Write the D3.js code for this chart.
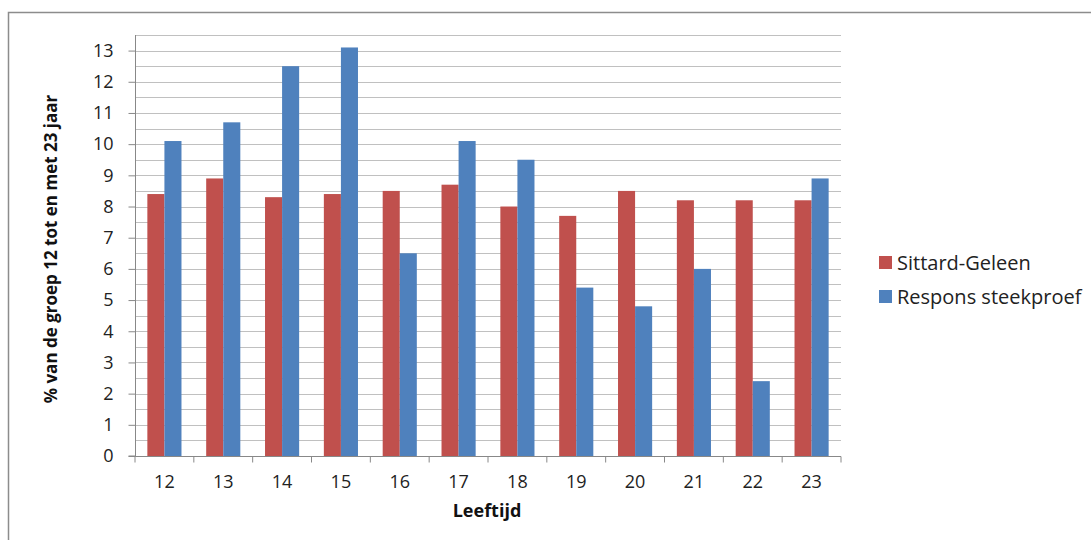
<!DOCTYPE html>
<html><head><meta charset="utf-8">
<script src="https://cdn.jsdelivr.net/npm/d3@7/dist/d3.min.js"></script>
<style>body{margin:0;background:#fff;} svg{display:block;font-family:"Open Sans",sans-serif;}</style>
</head><body>
<svg id="c" width="1091" height="540"></svg>
<script>
const categories = ["12","13","14","15","16","17","18","19","20","21","22","23"];
const sittardGeleen = [8.4, 8.9, 8.3, 8.4, 8.5, 8.7, 8.0, 7.7, 8.5, 8.2, 8.2, 8.2];
const responsSteekproef = [10.1, 10.7, 12.5, 13.1, 6.5, 10.1, 9.5, 5.4, 4.8, 6.0, 2.4, 8.9];
const seriesNames = ["Sittard-Geleen", "Respons steekproef"];
const yTicks = [0,1,2,3,4,5,6,7,8,9,10,11,12,13];

const colors = ["#C0504D", "#4F81BD"];
const svg = d3.select("#c");
const L = 135, R = 841, T = 35, B = 456;

// outer border
svg.append("path").attr("d", `M8.5,540 L8.5,12.5 L1091,12.5`).attr("fill","none").attr("stroke","#8c8c8c").attr("stroke-width",1.5);

const x = d3.scaleBand().domain(categories).range([L, R]);
const y = d3.scaleLinear().domain([0, 13.5]).range([B, T]);

// gridlines every 0.5
const grid = d3.range(0.5, 13.51, 0.5);
svg.append("g").selectAll("line").data(grid).join("line")
  .attr("x1", L).attr("x2", R).attr("y1", d => Math.round(y(d))+0.5).attr("y2", d => Math.round(y(d))+0.5)
  .attr("stroke", "#c0c0c0").attr("stroke-width", 1);

// bars
const barW = x.bandwidth() * 0.29;
const data = categories.map((c, i) => ({c, v: [sittardGeleen[i], responsSteekproef[i]]}));
const g = svg.append("g");
data.forEach(d => {
  d.v.forEach((v, j) => {
    const x0 = x(d.c) + x.bandwidth()/2 - barW + j*barW;
    g.append("rect").attr("x", x0).attr("y", y(v)).attr("width", barW).attr("height", y(0)-y(v))
      .attr("fill", colors[j]);
  });
});

// y axis
const yAxis = d3.axisLeft(y).tickValues(yTicks).tickSize(7).tickPadding(15).tickFormat(d3.format("d"));
const ya = svg.append("g").attr("transform", `translate(${L+0.5},0)`).call(yAxis);
ya.select(".domain").attr("stroke", "#888").attr("d", `M-7,${B}H0V${T}`);
ya.selectAll(".tick line").attr("stroke", "#888");
ya.selectAll(".tick text").attr("font-size", 18).attr("fill", "#222").attr("font-family", "Open Sans");

// x axis
const xa = svg.append("g").attr("transform", `translate(0,${B+0.5})`);
xa.append("line").attr("x1", L).attr("x2", R).attr("stroke", "#888");
const bounds = categories.map(c => x(c)).concat([R]);
xa.selectAll("line.t").data(bounds).join("line").attr("class","t")
  .attr("x1", d => d).attr("x2", d => d).attr("y1", 0).attr("y2", 6).attr("stroke", "#888");
xa.selectAll("text").data(categories).join("text")
  .attr("x", d => x(d) + x.bandwidth()/2).attr("y", 31).attr("text-anchor","middle")
  .attr("font-size", 18).attr("fill", "#222").text(d => d);

// axis titles
svg.append("text").attr("transform", `translate(57,249) rotate(-90)`).attr("text-anchor","middle")
  .attr("font-size", 17).attr("font-weight","bold").attr("fill","#111").text("% van de groep 12 tot en met 23 jaar");
svg.append("text").attr("x", 487).attr("y", 517).attr("text-anchor","middle")
  .attr("font-size", 18).attr("font-weight","bold").attr("fill","#111").text("Leeftijd");

// legend
const lg = svg.append("g");
seriesNames.forEach((n, i) => {
  lg.append("rect").attr("x", 879).attr("y", 256 + i*34).attr("width", 13).attr("height", 13).attr("fill", colors[i]);
  lg.append("text").attr("x", 897).attr("y", 270 + i*34).attr("font-size", 20).attr("fill","#222").text(n);
});
</script>
</body></html>
